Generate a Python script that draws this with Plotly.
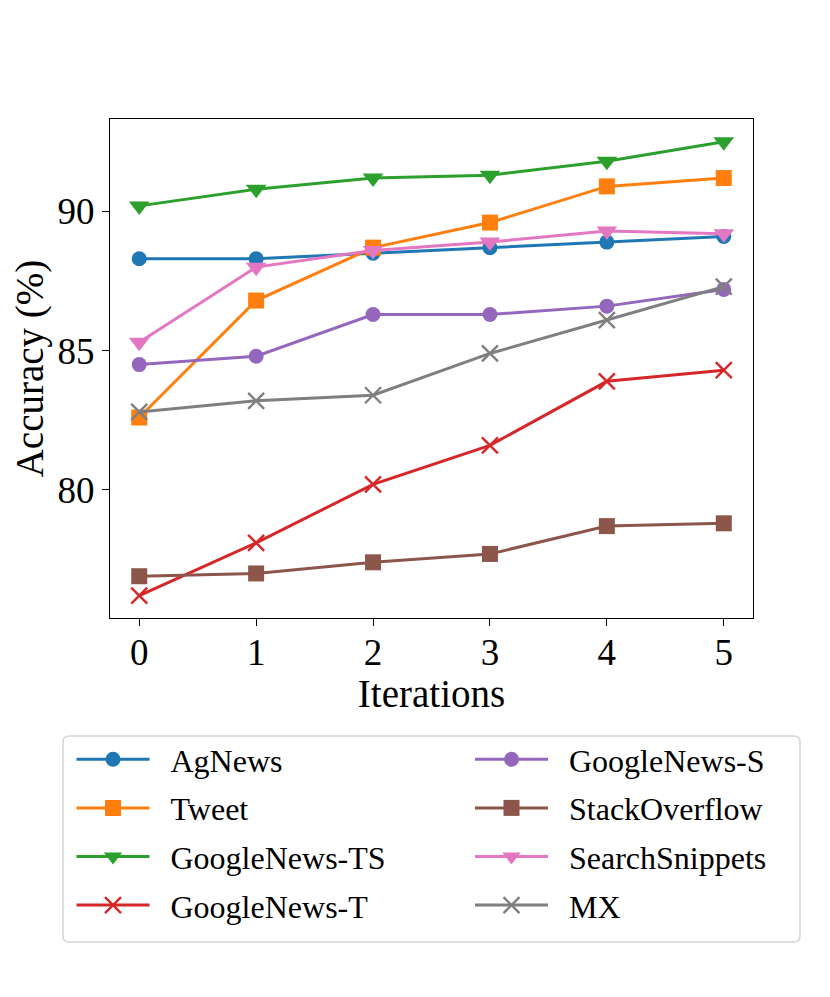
import plotly.graph_objects as go

# iterations on the x axis
iterations = [0, 1, 2, 3, 4, 5]

# accuracy (%) per dataset
ag_news = [88.3, 88.3, 88.5, 88.7, 88.9, 89.1]
tweet = [82.6, 86.8, 88.7, 89.6, 90.9, 91.2]
googlenews_ts = [90.2, 90.8, 91.2, 91.3, 91.8, 92.5]
googlenews_t = [76.2, 78.1, 80.2, 81.6, 83.9, 84.3]
googlenews_s = [84.5, 84.8, 86.3, 86.3, 86.6, 87.2]
stackoverflow = [76.9, 77.0, 77.4, 77.7, 78.7, 78.8]
search_snippets = [85.3, 88.0, 88.6, 88.9, 89.3, 89.2]
mx = [82.8, 83.2, 83.4, 84.9, 86.1, 87.3]

y_ticks = [80, 85, 90]

series = [
    ("AgNews", ag_news, "#1f77b4", "circle", "legend"),
    ("Tweet", tweet, "#ff7f0e", "square", "legend"),
    ("GoogleNews-TS", googlenews_ts, "#2ca02c", "triangle-down", "legend"),
    ("GoogleNews-T", googlenews_t, "#d62728", "x-thin", "legend"),
    ("GoogleNews-S", googlenews_s, "#9467bd", "circle", "legend2"),
    ("StackOverflow", stackoverflow, "#8c564b", "square", "legend2"),
    ("SearchSnippets", search_snippets, "#e377c2", "triangle-down", "legend2"),
    ("MX", mx, "#7f7f7f", "x-thin", "legend2"),
]

FONT = "Liberation Serif, Times New Roman, serif"
MARKER_SIZE = {"circle": 15, "square": 16, "triangle-down": 18, "x-thin": 16}

# page is drawn with the browser's 8px body margin, so the figure is 8px smaller
# and everything below is given in page pixels of the 830x997 window
OFF = 8
W, H = 830 - OFF, 997 - OFF
L, R, T, B = 110, 753, 119, 618
pw, ph = R - L, B - T


def px_x(x):
    return (x - L) / pw


def px_y(y):
    return (B - y) / ph


fig = go.Figure()
for name, vals, color, sym, leg in series:
    marker = dict(symbol=sym, size=MARKER_SIZE[sym], color=color)
    if sym == "x-thin":
        marker["line"] = dict(color=color, width=2.4)
    else:
        marker["line"] = dict(width=0)
    fig.add_trace(go.Scatter(
        x=iterations, y=vals, name="\u00a0\u00a0" + name, mode="lines+markers",
        line=dict(color=color, width=3), marker=marker, legend=leg,
        legendgroup=name,
    ))

# rounded frame around both legend columns
x0, x1 = px_x(63), px_x(800)
y0, y1 = px_y(942), px_y(736)
rx, ry = 6 / pw, 6 / ph
path = (
    f"M{x0 + rx},{y1} L{x1 - rx},{y1} Q{x1},{y1} {x1},{y1 - ry} "
    f"L{x1},{y0 + ry} Q{x1},{y0} {x1 - rx},{y0} "
    f"L{x0 + rx},{y0} Q{x0},{y0} {x0},{y0 + ry} "
    f"L{x0},{y1 - ry} Q{x0},{y1} {x0 + rx},{y1} Z"
)
fig.add_shape(type="path", path=path, xref="paper", yref="paper",
              line=dict(color="#d4d4d4", width=1.5), fillcolor="rgba(0,0,0,0)")

legend_style = dict(
    font=dict(family=FONT, size=32, color="black"),
    bgcolor="rgba(0,0,0,0)", borderwidth=0, itemwidth=73,
    xanchor="left", yanchor="top", tracegroupgap=4,
    traceorder="grouped",
)

fig.update_layout(
    width=W, height=H,
    margin=dict(l=L - OFF, r=830 - R, t=T - OFF, b=997 - B),
    paper_bgcolor="white", plot_bgcolor="white",
    font=dict(family=FONT, size=33, color="black"),
    showlegend=True,
    legend=dict(x=px_x(71.5), y=px_y(732), **legend_style),
    legend2=dict(x=px_x(470), y=px_y(732), **legend_style),
    xaxis=dict(
        range=[-0.25, 5.25], tickvals=iterations, showgrid=False, zeroline=False,
        showline=True, linecolor="black", linewidth=1.2, mirror=True,
        ticks="outside", ticklen=7, tickwidth=1.2, tickcolor="black",
        tickfont=dict(size=37), ticklabelstandoff=-6,
        title=dict(text="Iterations", font=dict(size=39), standoff=4),
    ),
    yaxis=dict(
        range=[75.4, 93.32], tickvals=y_ticks, showgrid=False, zeroline=False,
        showline=True, linecolor="black", linewidth=1.2, mirror=True,
        ticks="outside", ticklen=7, tickwidth=1.2, tickcolor="black",
        tickfont=dict(size=37),
        title=dict(text="Accuracy (%)", font=dict(size=39), standoff=11),
    ),
)

fig.write_html("out.html")
